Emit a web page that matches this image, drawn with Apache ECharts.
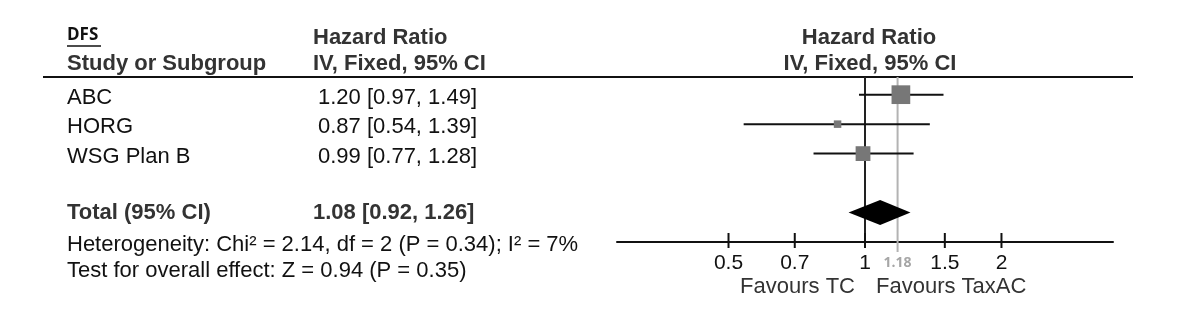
<!DOCTYPE html>
<html>
<head>
<meta charset="utf-8">
<script src="https://cdn.jsdelivr.net/npm/echarts@6/dist/echarts.min.js"></script>
<style>html,body{margin:0;padding:0;background:#fff;}#c{width:1200px;height:313px;}</style>
</head>
<body>
<div id="c"></div>
<script>
// ---- data ----
const studies = ['ABC', 'HORG', 'WSG Plan B'];
const hr = [1.20, 0.87, 0.99];
const lower = [0.97, 0.54, 0.77];
const upper = [1.49, 1.39, 1.28];
const weights = [56, 9, 35];          // % weight (square size)
const rowIndex = [0, 1, 2];
const totalLabel = 'Total (95% CI)';
const totalHR = 1.08, totalLo = 0.92, totalHi = 1.26, totalRow = 4;
const tickValues = [0.5, 0.7, 1, 1.5, 2];
const tickLabels = ['0.5', '0.7', '1', '1.5', '2'];
const refValue = 1.18;
const heterogeneity = 'Heterogeneity: Chi² = 2.14, df = 2 (P = 0.34); I² = 7%';
const overallEffect = 'Test for overall effect: Z = 0.94 (P = 0.35)';
const favourLeft = 'Favours TC', favourRight = 'Favours TaxAC';

const fmt = v => v.toFixed(2);
const FONT = '"Liberation Sans", Arial, sans-serif';
const X_MIN = 0.2838, X_MAX = 3.524, Y_MIN = -0.6, Y_MAX = 5;

const chart = echarts.init(document.getElementById('c'), null, {renderer: 'canvas'});

const studyData = studies.map((s, i) => [hr[i], rowIndex[i], lower[i], upper[i], weights[i]]);

const option = {
  animation: false,
  backgroundColor: '#fff',
  grid: {left: 617, top: 77, width: 496, height: 165},
  xAxis: {
    type: 'log', logBase: 10, min: X_MIN, max: X_MAX, position: 'bottom',
    axisLine: {show: true, onZero: false, lineStyle: {color: '#111', width: 2}},
    axisTick: {show: false}, axisLabel: {show: false}, splitLine: {show: false}
  },
  yAxis: {type: 'value', inverse: true, min: Y_MIN, max: Y_MAX, show: false},
  series: [
    // reference lines
    {
      type: 'custom', clip: false, z: 1,
      data: [[1, Y_MIN], [refValue, Y_MIN]],
      encode: {x: 0, y: 1},
      renderItem: (params, api) => {
        const v = api.value(0);
        const top = api.coord([v, Y_MIN]);
        const bot = api.coord([v, Y_MAX]);
        if (params.dataIndex === 0) {
          return {type: 'line', shape: {x1: top[0], y1: top[1], x2: bot[0], y2: bot[1]},
            style: {stroke: '#222', lineWidth: 2}};
        }
        return {type: 'group', children: [
          {type: 'line', shape: {x1: top[0], y1: top[1], x2: bot[0], y2: bot[1] + 10},
            style: {stroke: '#b3b3b3', lineWidth: 2}},
          {type: 'text', x: bot[0], y: bot[1] + 21,
            style: {text: String(refValue), fill: '#a6a6a6', font: 'bold 14px "Open Sans", sans-serif',
              align: 'center', verticalAlign: 'middle'}}
        ]};
      }
    },
    // axis ticks and labels
    {
      type: 'custom', clip: false, z: 3,
      data: tickValues.map((v, i) => [v, Y_MAX, i]),
      encode: {x: 0, y: 1},
      renderItem: (params, api) => {
        const p = api.coord([api.value(0), Y_MAX]);
        return {type: 'group', children: [
          {type: 'line', shape: {x1: p[0], y1: p[1] - 9, x2: p[0], y2: p[1] + 6},
            style: {stroke: '#111', lineWidth: 2}},
          {type: 'text', x: p[0], y: p[1] + 21,
            style: {text: tickLabels[api.value(2)], fill: '#111', font: '21px ' + FONT,
              align: 'center', verticalAlign: 'middle'}}
        ]};
      }
    },
    // study rows: CI line + square + text columns
    {
      type: 'custom', clip: false, z: 4,
      data: studyData,
      encode: {x: 0, y: 1},
      renderItem: (params, api) => {
        const i = params.dataIndex;
        const c = api.coord([api.value(0), api.value(1)]);
        const lo = api.coord([api.value(2), api.value(1)]);
        const hi = api.coord([api.value(3), api.value(1)]);
        const side = 2.5 * Math.sqrt(api.value(4));
        return {type: 'group', children: [
          {type: 'line', shape: {x1: lo[0], y1: c[1], x2: hi[0], y2: c[1]},
            style: {stroke: '#111', lineWidth: 2}},
          {type: 'rect', shape: {x: c[0] - side / 2, y: c[1] - side / 2, width: side, height: side},
            style: {fill: '#777'}},
          {type: 'text', x: 67, y: c[1] + 3,
            style: {text: studies[i], fill: '#111', font: '22px ' + FONT, verticalAlign: 'middle'}},
          {type: 'text', x: 318, y: c[1] + 3,
            style: {text: fmt(hr[i]) + ' [' + fmt(lower[i]) + ', ' + fmt(upper[i]) + ']',
              fill: '#111', font: '22px ' + FONT, verticalAlign: 'middle'}}
        ]};
      }
    },
    // total diamond
    {
      type: 'custom', clip: false, z: 4,
      data: [[totalHR, totalRow, totalLo, totalHi]],
      encode: {x: 0, y: 1},
      renderItem: (params, api) => {
        const c = api.coord([api.value(0), api.value(1)]);
        const lo = api.coord([api.value(2), api.value(1)]);
        const hi = api.coord([api.value(3), api.value(1)]);
        const h = 12.5;
        return {type: 'group', children: [
          {type: 'polygon', shape: {points: [[lo[0], c[1]], [c[0], c[1] - h], [hi[0], c[1]], [c[0], c[1] + h]]},
            style: {fill: '#000'}},
          {type: 'text', x: 67, y: c[1],
            style: {text: totalLabel, fill: '#333', font: 'bold 22px ' + FONT, verticalAlign: 'middle'}},
          {type: 'text', x: 313, y: c[1],
            style: {text: fmt(totalHR) + ' [' + fmt(totalLo) + ', ' + fmt(totalHi) + ']',
              fill: '#333', font: 'bold 22px ' + FONT, verticalAlign: 'middle'}}
        ]};
      }
    }
  ],
  graphic: [
    {type: 'text', left: 67, top: 27, style: {text: 'DFS', fill: '#111', font: 'bold 17px "Open Sans", sans-serif'}},
    {type: 'line', shape: {x1: 67, y1: 46, x2: 101, y2: 46}, style: {stroke: '#111', lineWidth: 1.5}},
    {type: 'text', x: 67, y: 64, style: {text: 'Study or Subgroup', fill: '#333', font: 'bold 22px ' + FONT, verticalAlign: 'middle'}},
    {type: 'text', x: 313, y: 38, style: {text: 'Hazard Ratio', fill: '#333', font: 'bold 22px ' + FONT, verticalAlign: 'middle'}},
    {type: 'text', x: 313, y: 64, style: {text: 'IV, Fixed, 95% CI', fill: '#333', font: 'bold 22px ' + FONT, verticalAlign: 'middle'}},
    {type: 'text', x: 869, y: 38, style: {text: 'Hazard Ratio', fill: '#333', font: 'bold 22px ' + FONT, align: 'center', verticalAlign: 'middle'}},
    {type: 'text', x: 870, y: 64, style: {text: 'IV, Fixed, 95% CI', fill: '#333', font: 'bold 22px ' + FONT, align: 'center', verticalAlign: 'middle'}},
    {type: 'line', shape: {x1: 43, y1: 77, x2: 1133, y2: 77}, style: {stroke: '#111', lineWidth: 2}},
    {type: 'text', x: 67, y: 245, style: {text: heterogeneity, fill: '#111', font: '22px ' + FONT, verticalAlign: 'middle'}},
    {type: 'text', x: 67, y: 271, style: {text: overallEffect, fill: '#111', font: '22px ' + FONT, verticalAlign: 'middle'}},
    {type: 'text', x: 855, y: 287, style: {text: favourLeft, fill: '#333', font: '22px ' + FONT, align: 'right', verticalAlign: 'middle'}},
    {type: 'text', x: 876, y: 287, style: {text: favourRight, fill: '#333', font: '22px ' + FONT, align: 'left', verticalAlign: 'middle'}}
  ]
};
chart.setOption(option);
</script>
</body>
</html>
